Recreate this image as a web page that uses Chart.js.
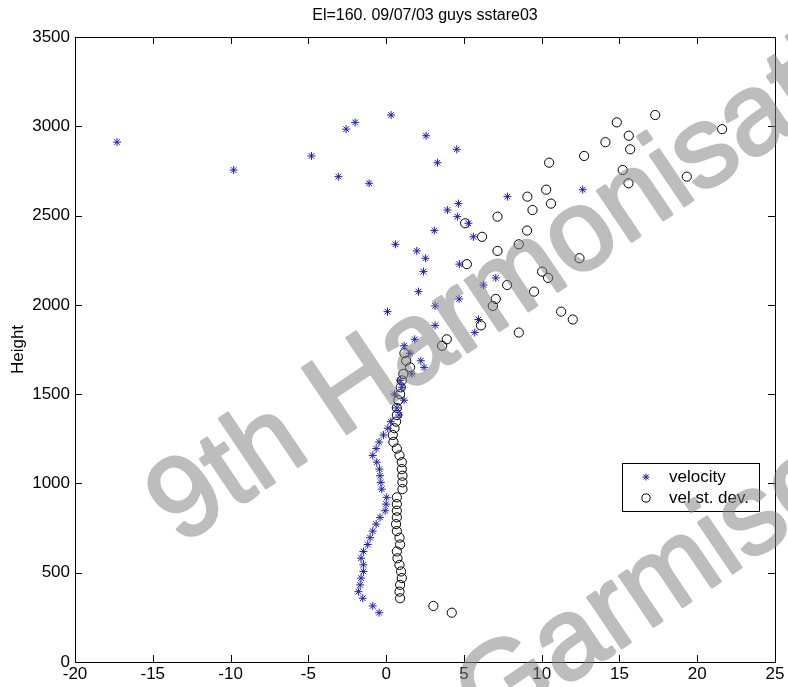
<!DOCTYPE html>
<html>
<head>
<meta charset="utf-8">
<script src="https://cdn.jsdelivr.net/npm/chart.js@4/dist/chart.umd.min.js"></script>
<style>
  html, body { margin: 0; padding: 0; background: #fff; }
  canvas { display: block; }
</style>
</head>
<body>
<canvas id="chart" width="788" height="687"></canvas>
<script>
// range gate heights (m), shared by both series
const heights = [276, 314, 357, 394, 432, 470, 507, 544, 581, 619,
  658, 696, 733, 772, 810, 847, 884, 922, 968, 1006,
  1043, 1080, 1119, 1157, 1195, 1232, 1271, 1309, 1346, 1383,
  1423, 1466, 1500, 1538, 1577, 1613, 1650, 1687, 1729, 1771,
  1807, 1845, 1885, 1918, 1962, 1994, 2033, 2074, 2111, 2151,
  2186, 2228, 2261, 2302, 2339, 2381, 2416, 2457, 2494, 2531,
  2567, 2606, 2645, 2681, 2718, 2755, 2796, 2834, 2871, 2911,
  2947, 2984, 3022, 3063];

const velocity = [-0.45, -0.86, -1.5, -1.78, -1.67, -1.61, -1.46, -1.46, -1.61, -1.46,
  -1.18, -1.03, -0.86, -0.64, -0.39, -0.06, 0.0, 0.04, -0.28, -0.34,
  -0.39, -0.43, -0.6, -0.86, -0.64, -0.45, -0.17, 0.11, 0.3, 0.84,
  0.69, 1.16, 0.54, 1.01, 0.9, 1.65, 2.44, 2.23, 1.54, 1.16,
  1.84, 5.7, 3.15, 5.94, 0.09, 3.15, 4.69, 2.08, 6.26, 7.05,
  2.4, 4.71, 2.53, 1.97, 0.6, 5.61, 3.1, 5.29, 4.58, 3.94,
  4.65, 7.8, 12.64, -1.09, -3.07, -9.8, 3.3, -4.8, 4.54, -17.3,
  2.57, -2.57, -1.99, 0.32];

const velStdDev = [4.22, 3.04, 0.9, 0.86, 0.9, 1.01, 0.96, 0.86, 0.73, 0.69,
  0.9, 0.86, 0.69, 0.64, 0.69, 0.69, 0.69, 0.69, 1.05, 1.05,
  1.05, 1.01, 1.01, 0.86, 0.69, 0.47, 0.43, 0.54, 0.64, 0.69,
  0.69, 0.79, 0.9, 0.94, 1.01, 1.11, 1.54, 1.29, 1.18, 3.6,
  3.9, 8.53, 6.1, 12.0, 11.25, 6.86, 7.05, 9.51, 7.78, 10.41,
  10.03, 5.19, 12.43, 7.16, 8.53, 6.17, 9.06, 5.08, 7.16, 9.41,
  10.6, 9.08, 10.29, 15.58, 19.33, 15.21, 10.48, 12.73, 15.69, 14.1,
  15.6, 21.6, 14.83, 17.3];

const seriesNames = ['velocity', 'vel st. dev.'];
const chartTitle = 'El=160. 09/07/03 guys sstare03';
const yTitle = 'Height';
const watermark = ['9th Harmonisation', 'Garmisch'];

const FONT = '"Liberation Sans", Arial, Helvetica, sans-serif';
const BLUE = '#1e1eb4';

const toPoints = vals => vals.map((v, i) => ({ x: v, y: heights[i] }));

// box, inward ticks, title, legend and watermark, MATLAB style
const decorations = {
  id: 'decorations',
  afterDatasetsDraw(chart) {
    const { ctx, chartArea: a, scales: { x, y } } = chart;
    ctx.save();
    ctx.strokeStyle = '#000';
    ctx.lineWidth = 1;
    ctx.strokeRect(a.left + 0.5, a.top + 0.5, a.right - a.left, a.bottom - a.top);
    ctx.beginPath();
    x.ticks.forEach(t => {
      const px = Math.round(x.getPixelForValue(t.value)) + 0.5;
      ctx.moveTo(px, a.bottom); ctx.lineTo(px, a.bottom - 7);
      ctx.moveTo(px, a.top); ctx.lineTo(px, a.top + 7);
    });
    y.ticks.forEach(t => {
      const py = Math.round(y.getPixelForValue(t.value)) + 0.5;
      ctx.moveTo(a.left, py); ctx.lineTo(a.left + 7, py);
      ctx.moveTo(a.right, py); ctx.lineTo(a.right - 7, py);
    });
    ctx.stroke();

    ctx.fillStyle = '#000';
    ctx.font = '16px ' + FONT;
    ctx.textAlign = 'center';
    ctx.textBaseline = 'middle';
    ctx.fillText(chartTitle, (a.left + a.right) / 2, 16);
    ctx.restore();
  },
  afterDraw(chart) {
    const { ctx, width, height } = chart;
    ctx.save();
    // legend
    const lx = 622, ly = 463, lw = 137, lh = 48;
    ctx.fillStyle = '#fff';
    ctx.fillRect(lx, ly, lw, lh);
    ctx.strokeStyle = '#000';
    ctx.lineWidth = 1;
    ctx.strokeRect(lx + 0.5, ly + 0.5, lw, lh);
    chart.data.datasets.forEach((ds, i) => {
      const cy = ly + 14 + i * 21;
      ctx.strokeStyle = ds.borderColor;
      ctx.fillStyle = 'rgba(0,0,0,0)';
      ctx.lineWidth = 1;
      Chart.helpers.drawPoint(ctx, { pointStyle: ds.pointStyle, radius: ds.pointRadius - 0.5, rotation: 0, borderWidth: 1 }, 646, cy);
      ctx.fillStyle = '#000';
      ctx.font = '17px ' + FONT;
      ctx.textAlign = 'left';
      ctx.textBaseline = 'middle';
      ctx.fillText(ds.label, 669, cy);
    });

    // watermark: drawn opaque off-screen, laid on top semi-transparent
    const off = document.createElement('canvas');
    off.width = width; off.height = height;
    const o = off.getContext('2d');
    o.fillStyle = '#808080';
    o.strokeStyle = '#808080';
    o.lineWidth = 3;
    o.lineJoin = 'round';
    o.font = '115px ' + FONT;
    o.textBaseline = 'alphabetic';
    o.textAlign = 'left';
    const ang = -34 * Math.PI / 180;
    [[180, 546], [488, 738]].forEach((p, i) => {
      o.save();
      o.translate(p[0], p[1]);
      o.rotate(ang);
      o.fillText(watermark[i], 0, 0);
      o.strokeText(watermark[i], 0, 0);
      o.restore();
    });
    ctx.globalAlpha = 0.52;
    ctx.drawImage(off, 0, 0);
    ctx.restore();
  }
};

new Chart(document.getElementById('chart'), {
  type: 'scatter',
  data: {
    datasets: [{
      label: seriesNames[0],
      data: toPoints(velocity),
      pointStyle: 'star',
      pointRadius: 4,
      borderColor: BLUE,
      backgroundColor: BLUE,
      borderWidth: 1
    }, {
      label: seriesNames[1],
      data: toPoints(velStdDev),
      pointStyle: 'circle',
      pointRadius: 4.6,
      borderColor: '#000',
      backgroundColor: 'rgba(0,0,0,0)',
      borderWidth: 1
    }]
  },
  options: {
    responsive: false,
    animation: false,
    events: [],
    layout: { padding: { top: 37, right: 13, left: 0, bottom: 0 } },
    plugins: {
      legend: { display: false },
      title: { display: false },
      tooltip: { enabled: false }
    },
    scales: {
      x: {
        type: 'linear',
        min: -20, max: 25,
        grid: { display: false, drawTicks: false },
        border: { display: false },
        ticks: { stepSize: 5, color: '#000', font: { size: 17, family: FONT }, padding: 2, maxRotation: 0, callback: v => String(v) },
        afterFit(s) { s.height = 25; }
      },
      y: {
        type: 'linear',
        min: 0, max: 3500,
        grid: { display: false, drawTicks: false },
        border: { display: false },
        ticks: { stepSize: 500, color: '#000', font: { size: 17, family: FONT }, padding: 5, callback: v => String(v) },
        title: { display: true, text: yTitle, color: '#000', font: { size: 17, family: FONT }, padding: { top: 8, bottom: 0 } },
        afterFit(s) { s.width = 75; }
      }
    }
  },
  plugins: [decorations]
});
</script>
</body>
</html>
